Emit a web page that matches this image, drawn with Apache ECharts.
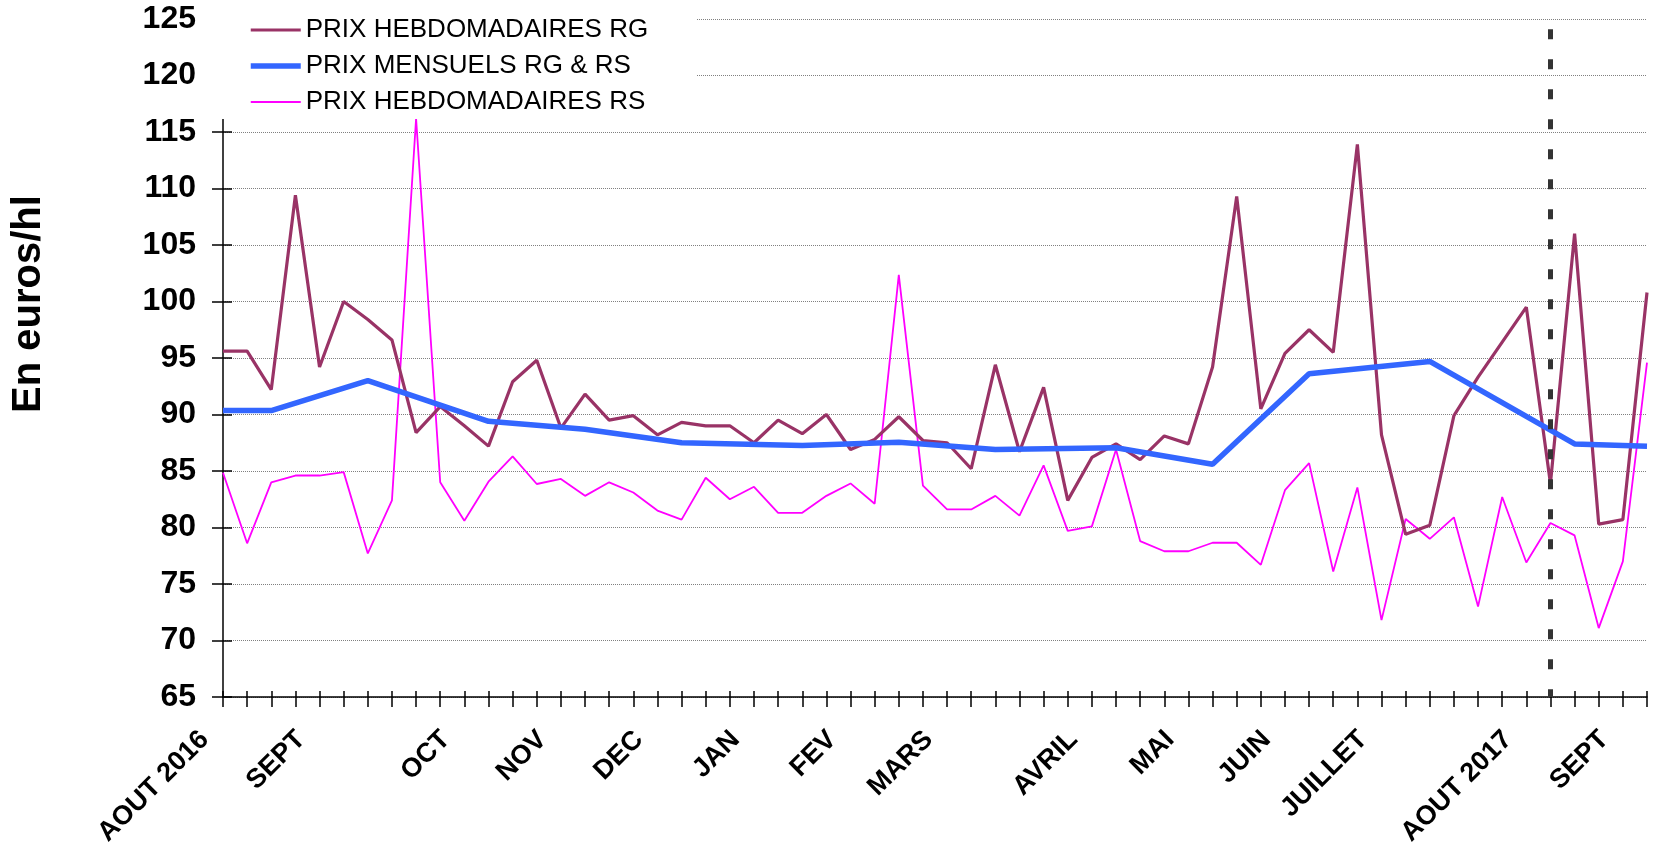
<!DOCTYPE html>
<html>
<head>
<meta charset="utf-8">
<title>Prix hebdomadaires et mensuels</title>
<script src="https://cdn.jsdelivr.net/npm/echarts@6/dist/echarts.min.js"></script>
<style>
  html, body { margin: 0; padding: 0; background: #fff; }
  #chart { width: 1658px; height: 844px; }
</style>
</head>
<body>
<div id="chart"></div>
<script>
// Month labels and the week (category index) where each one sits
const monthNames = ['AOUT 2016', 'SEPT', 'OCT', 'NOV', 'DEC', 'JAN', 'FEV', 'MARS',
  'AVRIL', 'MAI', 'JUIN', 'JUILLET', 'AOUT 2017', 'SEPT'];
const monthWeeks = [0, 4, 10, 14, 18, 22, 26, 30, 36, 40, 44, 48, 54, 58];

// Weekly prices, RG (euros/hl)
const weeklyRG = [95.6, 95.6, 92.2, 109.4, 94.2, 100.0, 98.4, 96.6, 88.4, 90.7,
  89.0, 87.2, 92.9, 94.8, 88.8, 91.8, 89.5, 89.9, 88.2, 89.3,
  89.0, 89.0, 87.5, 89.5, 88.3, 90.0, 86.9, 87.8, 89.8, 87.7,
  87.5, 85.2, 94.4, 86.7, 92.4, 82.4, 86.2, 87.4, 86.0, 88.1,
  87.4, 94.2, 109.3, 90.5, 95.4, 97.5, 95.5, 113.9, 88.2, 79.4,
  80.2, 89.9, 93.3, 96.4, 99.5, 83.9, 106.0, 80.3, 80.7, 100.8];

// Weekly prices, RS (euros/hl)
const weeklyRS = [84.85, 78.6, 84.0, 84.6, 84.6, 84.9, 77.7, 82.4, 116.2, 84.0,
  80.6, 84.05, 86.3, 83.85, 84.3, 82.8, 84.0, 83.1, 81.5, 80.7,
  84.4, 82.5, 83.6, 81.3, 81.3, 82.8, 83.9, 82.1, 102.35, 83.7,
  81.6, 81.6, 82.8, 81.05, 85.5, 79.7, 80.1, 86.9, 78.8, 77.9,
  77.9, 78.65, 78.65, 76.7, 83.3, 85.7, 76.1, 83.55, 71.8, 80.75,
  79.0, 80.9, 73.0, 82.7, 76.9, 80.4, 79.3, 71.1, 77.0, 94.6];

// Monthly prices RG & RS, placed on the week they refer to
const monthlyWeeks = [0, 2, 6, 11, 15, 19, 24, 28, 32, 37, 41, 45, 50, 56, 59];
const monthlyPrices = [90.35, 90.35, 93.0, 89.4, 88.7, 87.5, 87.25, 87.55, 86.9, 87.05,
  85.6, 93.6, 94.7, 87.4, 87.2];

// Vertical marker (start of the new campaign)
const markerWeek = 55;
const markerTop = 124.1;

// Y axis scale
const yMin = 65, yMax = 125, yStep = 5;

// Build the 60 weekly categories: month name on its first week, blank otherwise
const categories = weeklyRG.map(() => '');
monthWeeks.forEach((w, k) => { categories[w] = monthNames[k]; });

const monthlySeries = categories.map(() => null);
monthlyWeeks.forEach((w, k) => { monthlySeries[w] = monthlyPrices[k]; });

const FONT = '"Liberation Sans", Arial, Helvetica, sans-serif';

const chart = echarts.init(document.getElementById('chart'));
chart.setOption({
  animation: false,
  backgroundColor: '#fff',
  textStyle: { fontFamily: FONT },
  grid: {
    left: 223, right: 11, top: 19, bottom: 147,
    containLabel: false,
    outerBoundsMode: 'none'
  },
  legend: {
    orient: 'vertical',
    left: 205,
    top: 0,
    padding: [17, 48, 4, 43],
    backgroundColor: '#fff',
    itemWidth: 50,
    itemHeight: 14,
    itemGap: 10,
    selectedMode: false,
    itemStyle: { opacity: 0 },
    textStyle: { fontFamily: FONT, fontSize: 26, color: '#000', lineHeight: 26 },
    data: [
      { name: 'PRIX HEBDOMADAIRES RG', lineStyle: { width: 3.2 } },
      { name: 'PRIX MENSUELS RG & RS', lineStyle: { width: 5.5 } },
      { name: 'PRIX HEBDOMADAIRES RS', lineStyle: { width: 1.8 } }
    ]
  },
  xAxis: [
    {
      type: 'category',
      data: categories,
      boundaryGap: false,
      position: 'bottom',
      axisLine: { show: true, lineStyle: { color: '#000', width: 1.5 } },
      axisTick: { show: true, interval: 0, length: 10, lineStyle: { color: '#000', width: 1.5 } },
      axisLabel: {
        interval: 0, rotate: 45, margin: 20,
        padding: [0, 26, 0, 0],
        fontFamily: FONT, fontSize: 27, fontWeight: 'bold', color: '#000'
      },
      splitLine: { show: false }
    },
    {
      type: 'category',
      data: categories,
      boundaryGap: false,
      position: 'bottom',
      axisLine: { show: false },
      axisTick: { show: true, inside: true, interval: 0, length: 6, lineStyle: { color: '#000', width: 1.5 } },
      axisLabel: { show: false },
      splitLine: { show: false }
    }
  ],
  yAxis: [
    {
      type: 'value',
      min: yMin, max: yMax, interval: yStep,
      axisLine: { show: true, lineStyle: { color: '#000', width: 1.5 } },
      axisTick: { show: true, length: 11, lineStyle: { color: '#000', width: 1.5 } },
      axisLabel: { margin: 27, fontFamily: FONT, fontSize: 32, fontWeight: 'bold', color: '#000' },
      splitLine: { show: true, lineStyle: { color: '#808080', width: 1, type: [1, 1] } }
    },
    {
      type: 'value',
      min: yMin, max: yMax, interval: yStep,
      position: 'left',
      axisLine: { show: false },
      axisTick: { show: true, inside: true, length: 9, lineStyle: { color: '#000', width: 1.5 } },
      axisLabel: { show: false },
      splitLine: { show: false }
    }
  ],
  graphic: [
    {
      type: 'text',
      x: 29, y: 304,
      rotation: Math.PI / 2,
      style: {
        text: 'En euros/hl',
        font: 'bold 40px ' + FONT,
        fill: '#000',
        textAlign: 'center',
        textVerticalAlign: 'middle'
      }
    }
  ],
  series: [
    {
      name: 'PRIX HEBDOMADAIRES RG',
      type: 'line',
      data: weeklyRG,
      symbol: 'none',
      color: '#993366',
      lineStyle: { color: '#993366', width: 3.2 },
      z: 3
    },
    {
      name: 'PRIX MENSUELS RG & RS',
      type: 'line',
      data: monthlySeries,
      connectNulls: true,
      symbol: 'none',
      color: '#3366FF',
      lineStyle: { color: '#3366FF', width: 5.5 },
      z: 3,
      markLine: {
        silent: true,
        symbol: 'none',
        label: { show: false },
        lineStyle: { color: '#333', width: 5, type: [10, 20] },
        data: [[{ coord: [markerWeek, markerTop] }, { coord: [markerWeek, yMin] }]]
      }
    },
    {
      name: 'PRIX HEBDOMADAIRES RS',
      type: 'line',
      data: weeklyRS,
      symbol: 'none',
      color: '#FF00FF',
      lineStyle: { color: '#FF00FF', width: 1.8 },
      z: 2
    }
  ]
});
</script>
</body>
</html>
